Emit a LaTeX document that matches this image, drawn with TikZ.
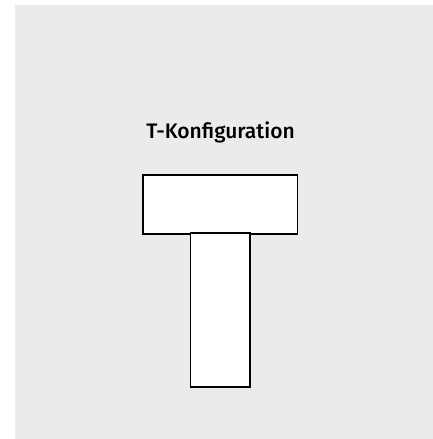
\documentclass[tikz,border=0pt]{standalone}
\usepackage{fontspec}
\setmainfont{Fira Sans}
\newfontfamily\titlefont{Fira Sans Medium}
\usetikzlibrary{positioning}
\definecolor{panelgray}{HTML}{EBEBEB}
\tikzset{
  part/.style={draw=black, fill=white, line width=1.6pt, inner sep=0pt, outer sep=0pt},
}
\begin{document}
\begin{tikzpicture}[x=1pt,y=-1pt]
    \useasboundingbox (0,0) rectangle (433,439);
    \fill[panelgray] (15,5) rectangle (433,439);
    % title
    \node[font=\titlefont\fontsize{21}{25}\selectfont, anchor=base] (title) at (220.5,138) {T-Konfiguration};
    % the T
    \node[part, minimum width=154.5pt, minimum height=59pt] (bar) at (220.4,204.7) {};
    \node[part, minimum width=59.5pt, minimum height=154pt, below=-1.2pt of bar] (stem) {};
\end{tikzpicture}
\end{document}
